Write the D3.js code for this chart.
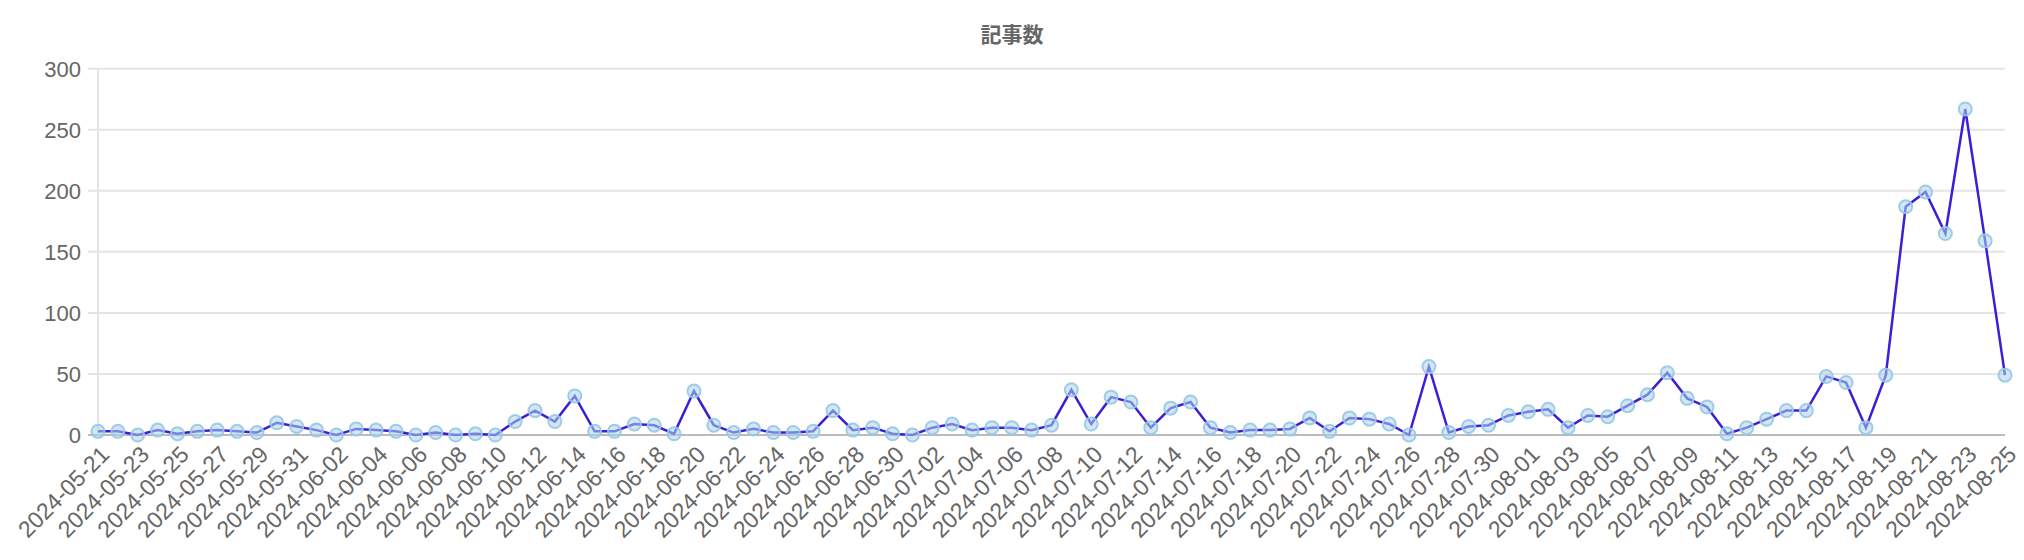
<!DOCTYPE html>
<html>
<head>
<meta charset="utf-8">
<script src="https://cdn.jsdelivr.net/npm/d3@7"></script>
<style>
  body { margin: 0; background: #fff; }
  text { font-family: "Liberation Sans", "Noto Sans CJK JP", sans-serif; fill: #666; }
</style>
</head>
<body>
<svg id="chart" width="2024" height="560"></svg>
<script>
// daily article counts, 2024-05-21 .. 2024-08-25
var startDate = "2024-05-21";
var counts = [
  3, 3, 0, 4, 1, 3, 4, 3, 2, 10, 7, 4, 0, 5, 4, 3, 0,
  2, 0, 1, 0, 11, 20, 11, 32, 3, 3, 9, 8, 1, 36, 8, 2,
  5, 2, 2, 3, 20, 4, 6, 1, 0, 6, 9, 4, 6, 6, 4, 8,
  37, 9, 31, 27, 6, 22, 27, 6, 2, 4, 4, 5, 14, 3, 14, 13,
  9, 0, 56, 2, 7, 8, 16, 19, 21, 6, 16, 15, 24, 33, 51, 30, 23,
  1, 6, 13, 20, 20, 48, 43, 6, 49, 187, 199, 165, 267, 159, 49
];
var yTicks = [0, 50, 100, 150, 200, 250, 300];

// build date labels
var fmt = d3.utcFormat("%Y-%m-%d");
var start = new Date(startDate + "T00:00:00Z");
var dates = counts.map((c, i) => fmt(d3.utcDay.offset(start, i)));

var svg = d3.select("#chart");

var x = d3.scalePoint().domain(dates).range([98, 2005]);
var y = d3.scaleLinear().domain([0, 300]).range([435, 68.7]);

// horizontal grid
svg.append("g").selectAll("line")
  .data(yTicks)
  .join("line")
  .attr("x1", 88).attr("x2", 2005)
  .attr("y1", d => y(d)).attr("y2", d => y(d))
  .attr("stroke", d => d == 0 ? "#bbb" : "#e4e4e4")
  .attr("stroke-width", 2);

// y axis line
svg.append("line")
  .attr("x1", 98).attr("x2", 98)
  .attr("y1", y(300)).attr("y2", y(0))
  .attr("stroke", "#e4e4e4").attr("stroke-width", 2);

// y labels
svg.append("g").selectAll("text")
  .data(yTicks)
  .join("text")
  .attr("x", 81)
  .attr("y", d => y(d))
  .attr("dy", "0.36em")
  .attr("text-anchor", "end")
  .style("font-size", "22px")
  .text(d => d);

// x labels, every other day
svg.append("g").selectAll("text")
  .data(dates.filter((d, i) => i % 2 == 0))
  .join("text")
  .attr("transform", d => "translate(" + (x(d) + 7) + ",450) rotate(-45)")
  .attr("text-anchor", "end")
  .attr("dy", "0.36em")
  .style("font-size", "23px")
  .text(d => d);

// line
var line = d3.line()
  .x((d, i) => x(dates[i]))
  .y(d => y(d));

svg.append("path")
  .datum(counts)
  .attr("d", line)
  .attr("fill", "none")
  .attr("stroke", "#3a1fd6")
  .attr("stroke-width", 2.5);

// points
svg.append("g").selectAll("circle")
  .data(counts)
  .join("circle")
  .attr("cx", (d, i) => x(dates[i]))
  .attr("cy", d => y(d))
  .attr("r", 6.5)
  .attr("fill", "rgba(173,212,235,0.55)")
  .attr("stroke", "rgba(150,200,228,0.9)")
  .attr("stroke-width", 2);

// title
svg.append("text")
  .attr("x", 1012)
  .attr("y", 34)
  .attr("text-anchor", "middle")
  .attr("dy", "0.36em")
  .style("font-size", "21px")
  .style("font-weight", "bold")
  .text("記事数");
</script>
</body>
</html>
